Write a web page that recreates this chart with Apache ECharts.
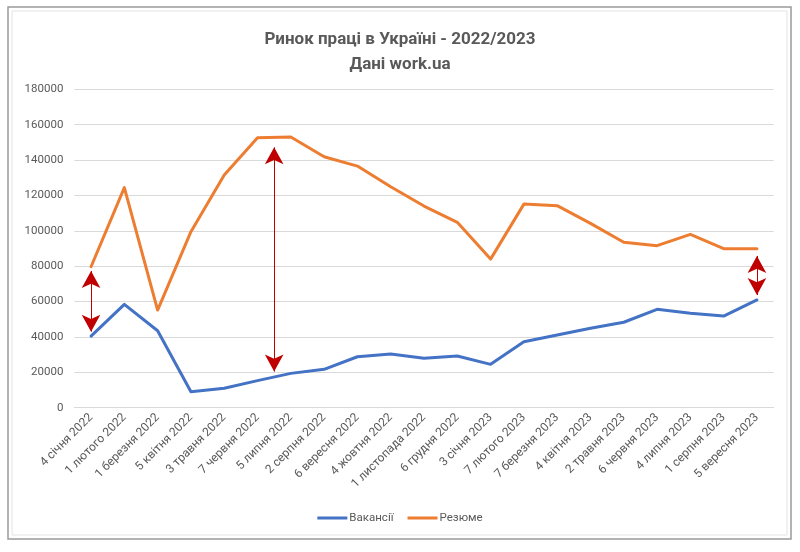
<!DOCTYPE html>
<html>
<head>
<meta charset="utf-8">
<script src="https://cdn.jsdelivr.net/npm/echarts@6/dist/echarts.min.js"></script>
<style>
html,body{margin:0;padding:0;background:#fff;}
#chart{width:800px;height:552px;}
</style>
</head>
<body>
<div id="chart"></div>
<script>
var categories = ['4 січня 2022','1 лютого 2022','1 березня 2022','5 квітня 2022','3 травня 2022','7 червня 2022','5 липня 2022','2 серпня 2022','6 вересня 2022','4 жовтня 2022','1 листопада 2022','6 грудня 2022','3 січня 2023','7 лютого 2023','7 березня 2023','4 квітня 2023','2 травня 2023','6 червня 2023','4 липня 2023','1 серпня 2023','5 вересня 2023'];
var vacancies = [40500,58400,43500,9000,11000,15300,19400,21700,28800,30400,27900,29200,24500,37300,41100,44900,48300,55600,53400,51800,60900];
var resumes = [79700,124400,55200,99500,131500,152600,153000,141900,136600,124900,114000,104800,84000,115100,114200,104200,93500,91600,98000,89900,89900];
// annotation arrows: [category position, top value, bottom value]
var arrows = [[0,77300,43000],[5.5,147200,20400],[20,85800,63700]];

var font = 'Roboto, "Open Sans", sans-serif';
var chart = echarts.init(document.getElementById('chart'), null, {renderer:'canvas'});
chart.setOption({
  animation:false,
  backgroundColor:'#fff',
  title:{
    text:'Ринок праці в Україні - 2022/2023\nДані work.ua',
    left:'center', top:22,
    textStyle:{fontFamily:font, fontSize:17, fontWeight:'bold', color:'#595959', lineHeight:25}
  },
  legend:{
    bottom:23, left:'center',
    itemWidth:30, itemHeight:3, itemGap:14,
    icon:'rect',
    textStyle:{fontFamily:font, fontSize:11.5, color:'#595959', padding:[0,0,0,-3]},
    data:['Вакансії','Резюме']
  },
  grid:{left:74.4, right:26.4, top:89.3, bottom:144.3},
  xAxis:[{
    type:'category', data:categories, boundaryGap:true,
    axisLine:{show:true, lineStyle:{color:'#d9d9d9', width:1}},
    axisTick:{show:false},
    axisLabel:{rotate:45, interval:0, margin:8, fontFamily:font, fontSize:12, color:'#595959'}
  },{
    type:'value', min:-0.5, max:20.5, show:false, splitLine:{show:false}
  }],
  yAxis:{
    type:'value', min:0, max:180000, interval:20000,
    axisLine:{show:false}, axisTick:{show:false},
    splitLine:{lineStyle:{color:'#d9d9d9', width:1}},
    axisLabel:{margin:11, fontFamily:font, fontSize:11.5, color:'#595959', formatter:function(v){return String(v);}}
  },
  series:[
    {name:'Вакансії', type:'line', data:vacancies, symbol:'none', smooth:false,
     lineStyle:{color:'#4472C4', width:3, cap:'round', join:'round'}, itemStyle:{color:'#4472C4'}},
    {name:'Резюме', type:'line', data:resumes, symbol:'none', smooth:false,
     lineStyle:{color:'#ED7D31', width:3, cap:'round', join:'round'}, itemStyle:{color:'#ED7D31'}},
    {name:'arrows', type:'line', xAxisIndex:1, yAxisIndex:0, data:[], symbol:'none',
     markLine:{
       silent:true, animation:false,
       symbol:['arrow','arrow'], symbolSize:[14,17],
       label:{show:false},
       lineStyle:{color:'#C00000', width:1, type:'solid'},
       itemStyle:{color:'#C00000'},
       emphasis:{disabled:true},
       data: arrows.map(function(a){ return [{coord:[a[0],a[1]]},{coord:[a[0],a[2]]}]; })
     }}
  ],
  graphic:[
    {type:'rect', shape:{x:8, y:7, width:783, height:532}, style:{fill:'none', stroke:'#9a9a9a', lineWidth:1.5}, silent:true},
    {type:'rect', shape:{x:12, y:11, width:775, height:524}, style:{fill:'none', stroke:'#e3e3e3', lineWidth:1}, silent:true}
  ]
});
</script>
</body>
</html>
